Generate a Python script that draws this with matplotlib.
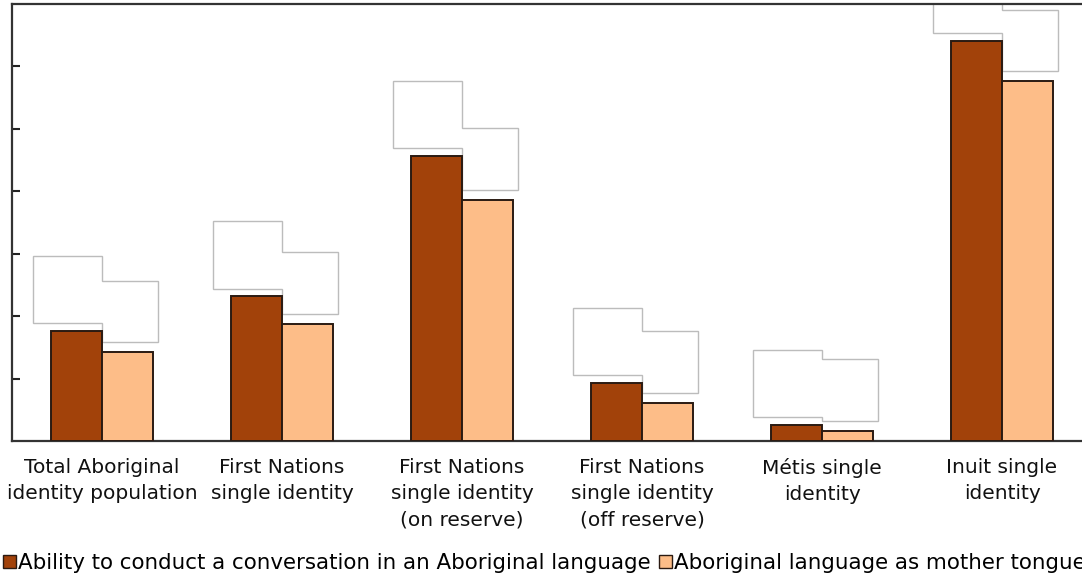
import numpy as np
import matplotlib
matplotlib.use('Agg')
import matplotlib.pyplot as plt
from matplotlib.patches import Patch, Polygon

# Данные (проценты)
categories = ['Total Aboriginal\nidentity population',
              'First Nations\nsingle identity',
              'First Nations\nsingle identity\n(on reserve)',
              'First Nations\nsingle identity\n(off reserve)',
              'Métis single\nidentity',
              'Inuit single\nidentity']
conversation = [17.7, 23.2, 45.7, 9.3, 2.6, 64.1]
mother_tongue = [14.2, 18.7, 38.6, 6.1, 1.6, 57.6]
series_names = ['Ability to conduct a conversation in an Aboriginal language',
                'Aboriginal language as mother tongue']
y_ticks = [10, 20, 30, 40, 50, 60]

col_dark = '#a2420a'
col_light = '#fdbd88'
edge = '#2a1a12'

plt.rcParams['font.family'] = ['DejaVu Sans']

fig = plt.figure(figsize=(10.82, 5.75), dpi=100)
ax = fig.add_axes([12 / 1082, 134 / 575, 1080 / 1082, 437 / 575])

x = np.arange(len(categories))
w = 0.283
ax.bar(x - w / 2, conversation, w, color=col_dark, edgecolor=edge, linewidth=1.4, zorder=3)
ax.bar(x + w / 2, mother_tongue, w, color=col_light, edgecolor=edge, linewidth=1.4, zorder=3)

# белые рамки на месте подписей значений
for xi, a, m in zip(x, conversation, mother_tongue):
    xl0 = xi - w - 0.1
    xm = xi
    xr1 = xi + w + 0.03
    a_lo, a_hi = a + 1.2, a + 12
    m_lo, m_hi = m + 1.6, m + 11.5
    pts = [(xl0, a_lo), (xl0, a_hi), (xm, a_hi), (xm, m_hi),
           (xr1, m_hi), (xr1, m_lo), (xm, m_lo), (xm, a_lo)]
    ax.add_patch(Polygon(pts, closed=True, facecolor='white', edgecolor='#bcbcbc',
                         linewidth=1.0, zorder=2))

ax.set_xlim(-0.5, 5.5)
ax.set_ylim(0, 70)
ax.set_yticks(y_ticks)
ax.tick_params(axis='y', direction='in', length=6, width=1.5, color='#222222', labelleft=False)
ax.set_xticks(x)
ax.set_xticklabels(categories, fontsize=14.5, color='#111111', linespacing=1.5)
ax.tick_params(axis='x', length=0, pad=12)

for s in ['left', 'top', 'bottom']:
    ax.spines[s].set_color('#333333')
    ax.spines[s].set_linewidth(1.6)
ax.spines['right'].set_visible(False)

handles = [Patch(facecolor=col_dark, edgecolor=edge, linewidth=1.0),
           Patch(facecolor=col_light, edgecolor=edge, linewidth=1.0)]
fig.legend(handles, series_names, loc='center', bbox_to_anchor=(0.503, 12 / 575), ncol=2,
           frameon=False, fontsize=15.4, handlelength=0.6, handleheight=0.6,
           handletextpad=0.1, columnspacing=0.4, borderaxespad=0)

plt.savefig('out.png', dpi=100)
